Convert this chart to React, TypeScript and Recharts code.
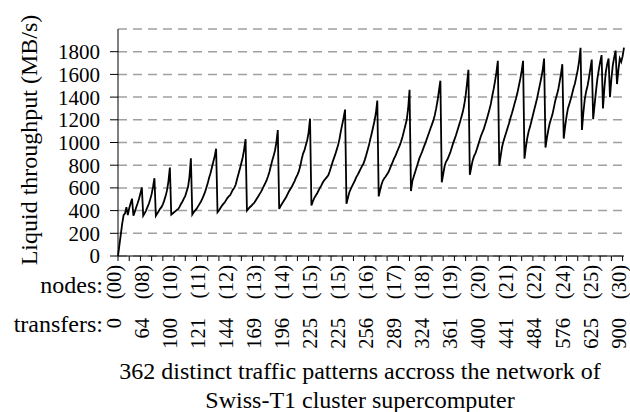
import React from "react";
import {CartesianGrid, Line, LineChart, XAxis, YAxis} from "recharts";

// Liquid throughput (MB/s) of the 362 traffic patterns, one array per saw tooth
const toothA = [0, 95, 190, 285, 360, 375, 430];
const toothB = [360, 420, 465, 505];
const toothC = [355, 390, 430, 465, 505, 550, 605];
const toothD = [355, 375, 400, 430, 460, 500, 545, 610, 685];
const toothE = [355, 375, 395, 415, 430, 455, 490, 530, 580, 660, 780];
const toothF = [365, 375, 385, 395, 405, 415, 435, 460, 480, 505, 530, 570, 610, 700, 860];
const toothG = [365, 385, 400, 415, 435, 455, 475, 500, 530, 560, 600, 640, 690, 730, 780, 830, 880, 945];
const toothH = [385, 400, 420, 440, 457, 470, 490, 510, 525, 535, 560, 585, 600, 630, 680, 725, 770, 820, 870, 940, 1030];
const toothI = [400, 415, 430, 440, 455, 465, 485, 505, 525, 545, 565, 590, 615, 640, 665, 700, 740, 790, 840, 880, 930, 1000, 1110];
const toothJ = [415, 440, 460, 480, 500, 520, 545, 570, 590, 610, 635, 660, 690, 715, 745, 790, 850, 900, 930, 975, 1020, 1090, 1210];
const toothK = [445, 480, 510, 530, 550, 575, 600, 620, 645, 665, 680, 695, 710, 745, 785, 825, 860, 895, 935, 975, 1030, 1100, 1160, 1220, 1290];
const toothL = [460, 510, 560, 590, 615, 640, 665, 695, 715, 740, 765, 790, 810, 845, 885, 930, 975, 1030, 1080, 1135, 1190, 1260, 1370];
const toothM = [525, 580, 630, 665, 685, 700, 720, 740, 770, 800, 830, 860, 885, 915, 945, 975, 1010, 1050, 1100, 1150, 1200, 1300, 1465];
const toothN = [572, 660, 700, 740, 780, 820, 860, 890, 920, 955, 985, 1020, 1055, 1090, 1125, 1160, 1195, 1240, 1300, 1370, 1460, 1545];
const toothO = [650, 720, 790, 830, 850, 880, 910, 950, 990, 1025, 1060, 1100, 1140, 1180, 1225, 1270, 1330, 1410, 1520, 1640];
const toothP = [715, 780, 840, 880, 905, 940, 980, 1020, 1060, 1090, 1120, 1160, 1200, 1245, 1290, 1340, 1410, 1470, 1540, 1620, 1720];
const toothQ = [795, 880, 960, 1010, 1050, 1090, 1130, 1170, 1215, 1255, 1300, 1345, 1390, 1440, 1500, 1560, 1630, 1720];
const toothR = [858, 960, 1040, 1100, 1140, 1190, 1240, 1290, 1340, 1390, 1450, 1510, 1570, 1640, 1740];
const toothS = [955, 1040, 1110, 1170, 1210, 1250, 1310, 1370, 1415, 1460, 1530, 1600, 1690];
const toothT = [1035, 1140, 1230, 1300, 1340, 1380, 1430, 1480, 1520, 1580, 1640, 1720, 1835];
const toothU = [1110, 1260, 1380, 1450, 1500, 1570, 1650, 1730];
const toothV = [1205, 1330, 1450, 1560, 1640, 1710, 1770];
const toothW = [1300, 1480, 1620, 1690, 1740];
const toothX = [1400, 1560, 1680, 1750, 1810];
const toothY = [1515, 1640, 1740, 1710, 1760, 1835];

const throughput = [
    ...toothA, ...toothB, ...toothC, ...toothD, ...toothE, ...toothF, ...toothG,
    ...toothH, ...toothI, ...toothJ, ...toothK, ...toothL, ...toothM, ...toothN,
    ...toothO, ...toothP, ...toothQ, ...toothR, ...toothS, ...toothT, ...toothU,
    ...toothV, ...toothW, ...toothX, ...toothY,
];

// one label every 20 patterns
const nodeLabels = ["(00)", "(08)", "(10)", "(11)", "(12)", "(13)", "(14)", "(15)", "(15)", "(16)",
    "(17)", "(18)", "(19)", "(20)", "(21)", "(22)", "(24)", "(25)", "(30)"];
const transferLabels = ["0", "64", "100", "121", "144", "169", "196", "225", "225", "256",
    "289", "324", "361", "400", "441", "484", "576", "625", "900"];
const yTicks = [0, 200, 400, 600, 800, 1000, 1200, 1400, 1600, 1800];

const data = throughput.map((value, idx) => ({idx, value}));
const xTicks = data.filter(d => d.idx % 4 === 0).map(d => d.idx);

const FONT = "'Liberation Serif', 'Times New Roman', 'DejaVu Serif', serif";
const AXIS_Y = 256;

const PatternTick = ({x, payload}: any) => {
    const v = payload.value;
    const k = v / 20;
    return (
        <g>
            {v % 8 === 0 && <line x1={x} x2={x} y1={AXIS_Y} y2={AXIS_Y + 5} stroke="#000"/>}
            {v % 20 === 0 && (
                <g style={{fontFamily: FONT, fontSize: 20.5}} fill="#000">
                    <text transform={`translate(${x + 3},265) rotate(-90)`} textAnchor="end">{nodeLabels[k]}</text>
                    <text transform={`translate(${x + 3},318) rotate(-90)`} textAnchor="end">{transferLabels[k]}</text>
                </g>
            )}
        </g>
    );
};

export default function App() {
    return (
        <div style={{position: "absolute", left: 0, top: 0, width: 630, height: 412, background: "#fff"}}>
            <LineChart width={630} height={412} data={data} margin={{top: 29, right: 6, bottom: 0, left: 0}}>
                <CartesianGrid vertical={false} stroke="#a0a0a0" strokeWidth={1.5} strokeDasharray="9 6"/>
                <XAxis dataKey="idx" type="number" domain={[0, throughput.length - 1]} ticks={xTicks}
                       interval={0} height={156} tickLine={false} axisLine={{stroke: "#000"}}
                       tick={PatternTick}/>
                <YAxis domain={[0, 2000]} ticks={yTicks} interval={0} width={118} tickSize={8} tickMargin={10}
                       axisLine={{stroke: "#000"}} tickLine={{stroke: "#000"}}
                       tick={{fill: "#000", fontSize: 21, style: {fontFamily: FONT}}}/>
                <Line dataKey="value" type="linear" stroke="#000" strokeWidth={1.8} dot={false}
                      isAnimationActive={false}/>
            </LineChart>
            <svg width={630} height={412} style={{position: "absolute", left: 0, top: 0, pointerEvents: "none", fontFamily: FONT}}
                 fill="#000">
                <text transform="translate(37,140) rotate(-90)" textAnchor="middle" fontSize={24}>
                    Liquid throughput (MB/s)
                </text>
                <text x={103} y={293} textAnchor="end" fontSize={24}>nodes:</text>
                <text x={103} y={332} textAnchor="end" fontSize={24}>transfers:</text>
                <text x={360} y={379} textAnchor="middle" fontSize={24}>
                    362 distinct traffic patterns accross the network of
                </text>
                <text x={360} y={408} textAnchor="middle" fontSize={24}>Swiss-T1 cluster supercomputer</text>
            </svg>
        </div>
    );
}
